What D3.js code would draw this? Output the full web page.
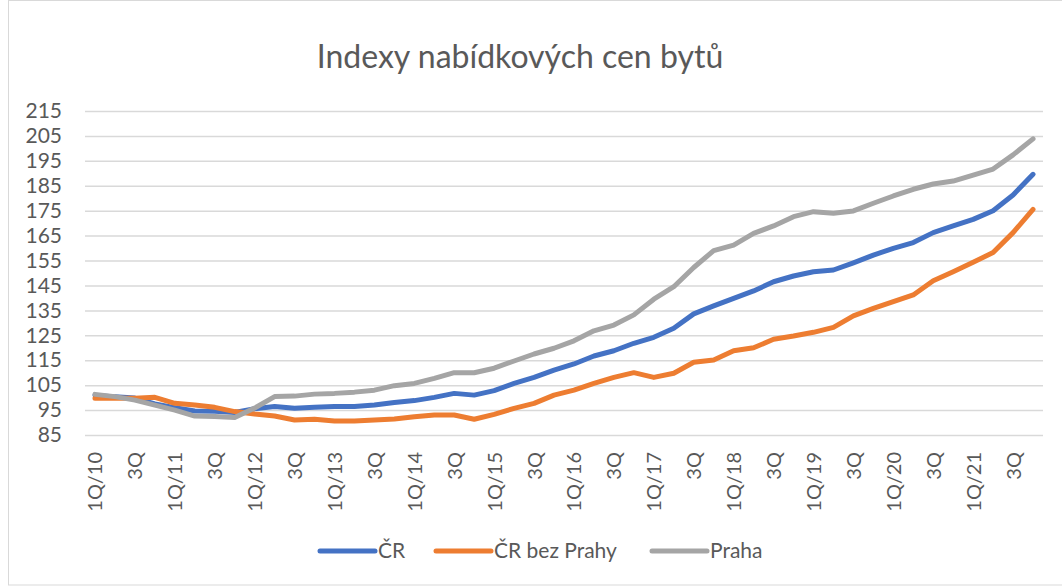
<!DOCTYPE html>
<html>
<head>
<meta charset="utf-8">
<script src="https://cdn.jsdelivr.net/npm/d3@7"></script>
<style>
  html, body { margin: 0; padding: 0; background: #fff; }
  svg { display: block; font-family: Lato, "Open Sans", sans-serif; }
</style>
</head>
<body>
<svg id="chart" width="1062" height="586"></svg>
<script>
// quarters 1Q/10 .. 4Q/21
const quarters = [];
for (let yr = 10; yr <= 21; yr++) {
  for (let q = 1; q <= 4; q++) quarters.push(q + "Q/" + yr);
}

const cr = [101, 100.3, 99.8, 97.5, 96, 94.6, 94.5, 94, 95.5, 96.4, 95.7, 96.1,
  96.4, 96.4, 97, 98, 98.8, 100.1, 101.7, 101, 102.8, 105.7, 108.1, 111,
  113.5, 116.7, 118.8, 121.8, 124.2, 127.8, 133.6, 136.8, 139.8, 142.8, 146.5, 148.8,
  150.5, 151.2, 154.1, 157.2, 159.9, 162.2, 166.2, 168.9, 171.5, 175, 181.3, 189.6];

const crBezPrahy = [99.7, 99.7, 99.7, 100.1, 97.7, 97, 96.1, 94.4, 93.4, 92.6, 91, 91.3,
  90.6, 90.6, 91, 91.4, 92.3, 93, 93, 91.3, 93.3, 95.7, 97.7, 101,
  103, 105.7, 108.1, 110, 108.1, 109.8, 114.2, 115.1, 118.8, 120, 123.4, 124.7,
  126.2, 128.2, 132.8, 135.8, 138.5, 141.2, 146.9, 150.5, 154.3, 158.2, 166.2, 175.5];

const praha = [101.3, 100.4, 99, 97, 95, 92.6, 92.4, 92, 95.8, 100.4, 100.6, 101.4,
  101.7, 102.2, 103, 104.8, 105.7, 107.7, 110, 110, 111.8, 114.7, 117.5, 119.8,
  122.8, 126.8, 129.1, 133.2, 139.5, 144.5, 152.2, 159, 161.2, 165.9, 168.9, 172.6,
  174.6, 174, 174.9, 178, 180.9, 183.6, 185.7, 186.9, 189.3, 191.7, 197.4, 203.8];

const seriesNames = ["ČR", "ČR bez Prahy", "Praha"];
const seriesColors = ["#4472C4", "#ED7D31", "#A5A5A5"];
const yTicks = d3.range(85, 216, 10);

const svg = d3.select("#chart");
const margin = {left: 85, right: 19, top: 111, bottom: 151};
const width = 1062 - margin.left - margin.right;
const height = 586 - margin.top - margin.bottom;

// chart border
svg.append("rect")
  .attr("x", 8.5).attr("y", 0.5)
  .attr("width", 1060).attr("height", 584.5)
  .attr("fill", "none").attr("stroke", "#d9d9d9");

svg.append("text")
  .attr("x", 520).attr("y", 68)
  .attr("text-anchor", "middle")
  .attr("fill", "#595959")
  .style("font-size", "32px")
  .text("Indexy nabídkových cen bytů");

const g = svg.append("g").attr("transform", `translate(${margin.left},${margin.top})`);

const x = d3.scalePoint().domain(quarters).range([0, width]).padding(0.5);
const y = d3.scaleLinear().domain([85, 215]).range([height, 0]);

// grid + y labels
const yAxis = g.append("g")
  .call(d3.axisLeft(y).tickValues(yTicks).tickSize(-width).tickPadding(23));
yAxis.select(".domain").remove();
yAxis.selectAll(".tick line").attr("stroke", "#d9d9d9").attr("stroke-width", 1.5);
yAxis.selectAll(".tick text")
  .attr("fill", "#595959")
  .style("font-size", "21px")
  .style("font-family", "Lato, sans-serif");

// x labels, every other quarter
const xAxis = g.append("g")
  .attr("transform", `translate(0,${height})`)
  .call(d3.axisBottom(x)
    .tickValues(quarters.filter((d, i) => i % 2 === 0))
    .tickFormat(d => d.startsWith("1Q") ? d : d.slice(0, 2))
    .tickSize(0));
xAxis.select(".domain").remove();
xAxis.selectAll(".tick text")
  .attr("fill", "#595959")
  .style("font-size", "20px")
  .style("font-family", "Lato, sans-serif")
  .attr("text-anchor", "end")
  .attr("dy", "0.35em")
  .attr("transform", "translate(0,17) rotate(-90)")
  .attr("x", 0).attr("y", 0);

const line = d3.line()
  .x((d, i) => x(quarters[i]))
  .y(d => y(d));

[cr, crBezPrahy, praha].forEach((vals, k) => {
  g.append("path")
    .datum(vals)
    .attr("fill", "none")
    .attr("stroke", seriesColors[k])
    .attr("stroke-width", 5)
    .attr("stroke-linejoin", "round")
    .attr("stroke-linecap", "round")
    .attr("d", line);
});

// legend
const legendX = [320, 436, 652];
const legend = svg.append("g").attr("transform", "translate(0,551)");
seriesNames.forEach((name, k) => {
  legend.append("line")
    .attr("x1", legendX[k]).attr("x2", legendX[k] + 55)
    .attr("y1", 0).attr("y2", 0)
    .attr("stroke", seriesColors[k])
    .attr("stroke-width", 5)
    .attr("stroke-linecap", "round");
  legend.append("text")
    .attr("x", legendX[k] + 58).attr("y", 0)
    .attr("dy", "0.35em")
    .attr("fill", "#595959")
    .style("font-size", "21px")
    .text(name);
});
</script>
</body>
</html>
